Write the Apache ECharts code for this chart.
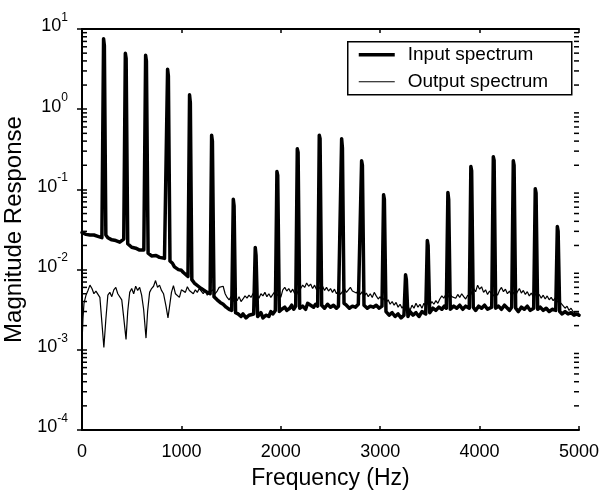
<!DOCTYPE html>
<html>
<head>
<meta charset="utf-8">
<script src="https://cdn.jsdelivr.net/npm/echarts@6/dist/echarts.min.js"></script>
<style>html,body{margin:0;padding:0;background:#fff}#c{width:600px;height:494px}</style>
</head>
<body>
<div id="c"></div>
<script>
// ---- data ----
const seriesNames = ['Input spectrum', 'Output spectrum'];
const xTicks = [0, 1000, 2000, 3000, 4000, 5000];
const yMinorTicks = [
  0.0002,0.0003,0.0004,0.0005,0.0006,0.0007,0.0008,0.0009,
  0.002,0.003,0.004,0.005,0.006,0.007,0.008,0.009,
  0.02,0.03,0.04,0.05,0.06,0.07,0.08,0.09,
  0.2,0.3,0.4,0.5,0.6,0.7,0.8,0.9,
  2,3,4,5,6,7,8,9
];
// input spectrum: noise floor [Hz, magnitude]
const inputFloor = [
  [0,0.029],[20,0.028],[40,0.0275],[60,0.028],[80,0.027],[100,0.0265],[120,0.027],[140,0.0262],[160,0.026],[180,0.0255],[200,0.025],
  [240,0.027],[260,0.025],[280,0.024],[300,0.0235],[320,0.024],[340,0.023],[360,0.0225],[380,0.022],[400,0.023],[420,0.024],
  [460,0.021],[480,0.0205],[500,0.019],[520,0.0195],[540,0.0185],[560,0.018],[580,0.0175],[600,0.018],[622,0.0175],
  [665,0.016],[680,0.0155],[700,0.0148],[720,0.0152],[745,0.015],[780,0.0142],[800,0.014],[830,0.0138],[846,0.0135],
  [885,0.0128],[910,0.012],[930,0.0108],[950,0.0102],[970,0.01],[1000,0.0098],[1020,0.0092],[1040,0.0088],[1066,0.0082],
  [1105,0.0075],[1130,0.0068],[1150,0.0066],[1170,0.0062],[1200,0.0058],[1230,0.0055],[1260,0.0052],[1289,0.005],
  [1328,0.0046],[1360,0.0042],[1390,0.0039],[1420,0.0037],[1450,0.0034],[1480,0.0032],[1506,0.0031],
  [1545,0.0029],[1570,0.0028],[1600,0.0026],[1620,0.0028],[1650,0.0025],[1680,0.0027],[1700,0.0026],[1727,0.0028],
  [1767,0.0026],[1800,0.0029],[1820,0.0025],[1850,0.0027],[1880,0.0026],[1900,0.003],[1920,0.0028],[1945,0.0031],
  [1985,0.003],[2010,0.0032],[2040,0.0034],[2060,0.0031],[2090,0.0033],[2110,0.0036],[2130,0.0032],[2150,0.0035],
  [2190,0.0033],[2220,0.0035],[2250,0.0032],[2270,0.0038],[2300,0.0036],[2330,0.0034],[2350,0.0037],[2371,0.0035],
  [2411,0.0036],[2440,0.0033],[2470,0.0037],[2500,0.0034],[2530,0.0036],[2560,0.0033],[2580,0.0035],[2596,0.0034],
  [2636,0.0038],[2660,0.0036],[2690,0.0033],[2720,0.0035],[2750,0.0034],[2780,0.0037],[2797,0.0035],
  [2837,0.0036],[2870,0.0033],[2900,0.0035],[2930,0.0034],[2960,0.0036],[2990,0.0033],[3018,0.0035],
  [3058,0.003],[3090,0.0027],[3120,0.0029],[3150,0.0026],[3180,0.0028],[3210,0.0025],[3239,0.0027],
  [3279,0.0026],[3300,0.003],[3330,0.0027],[3360,0.0029],[3390,0.0026],[3420,0.003],[3458,0.0028],
  [3498,0.0029],[3530,0.0033],[3560,0.0031],[3590,0.0034],[3620,0.0032],[3645,0.0035],[3665,0.0033],
  [3705,0.0032],[3740,0.0035],[3770,0.0033],[3800,0.0036],[3830,0.0032],[3860,0.0035],[3896,0.0033],
  [3936,0.0034],[3960,0.0031],[3990,0.0035],[4020,0.0033],[4050,0.0036],[4080,0.0032],[4122,0.0034],
  [4162,0.0033],[4190,0.0035],[4220,0.0032],[4250,0.0036],[4280,0.0033],[4300,0.0031],[4323,0.0034],
  [4363,0.0033],[4390,0.003],[4420,0.0034],[4450,0.0032],[4480,0.0035],[4510,0.0031],[4544,0.0033],
  [4584,0.0032],[4610,0.0034],[4640,0.0031],[4670,0.0033],[4700,0.003],[4730,0.0032],[4766,0.0031],
  [4806,0.003],[4830,0.0028],[4860,0.003],[4890,0.0028],[4920,0.0029],[4950,0.0027],[4980,0.0028],[5000,0.0027]
];
// input spectrum: harmonic peaks, two bins each [Hz, magnitude]
const inputPeaks = [
  [217,7.55],[225,6.2],[436,4.99],[444,4.3],[640,4.71],[648,4.0],[861,3.15],[869,2.6],
  [1082,1.51],[1090,1.2],[1304,0.474],[1312,0.4],[1522,0.0755],[1530,0.062],[1743,0.0189],[1751,0.015],
  [1961,0.167],[1969,0.15],[2166,0.321],[2174,0.29],[2387,0.474],[2395,0.43],[2612,0.428],[2620,0.33],
  [2813,0.227],[2821,0.2],[3034,0.0857],[3042,0.075],[3255,0.0086],[3263,0.0075],
  [3474,0.0231],[3482,0.02],[3681,0.0915],[3689,0.075],[3912,0.193],[3920,0.17],[4138,0.255],[4146,0.23],
  [4339,0.227],[4347,0.2],[4560,0.1017],[4568,0.09],[4782,0.0344],[4790,0.03]
];
// output spectrum [Hz, magnitude]
const outputSpectrum = [
  [0,0.0012],[10,0.0025],[20,0.0038],[40,0.0048],[60,0.0055],[80,0.0064],[100,0.0058],[120,0.005],[140,0.0054],[160,0.0056],[180,0.0045],[200,0.0022],
  [220,0.00107],[240,0.0024],[260,0.0048],[280,0.0052],[300,0.0046],[320,0.0056],[340,0.006],[360,0.005],[380,0.0052],[400,0.0042],[420,0.0025],
  [443,0.00135],[460,0.003],[480,0.0052],[500,0.0058],[520,0.005],[540,0.0062],[560,0.0055],[580,0.006],[600,0.0048],[620,0.0032],
  [644,0.0014],[660,0.003],[680,0.0052],[700,0.0058],[720,0.0062],[740,0.0073],[760,0.006],[780,0.0064],[800,0.0055],[820,0.005],[845,0.0035],
  [865,0.0025],[885,0.0038],[900,0.0052],[920,0.0063],[940,0.005],[960,0.0048],[980,0.0045],[1000,0.0056],[1020,0.0058],[1040,0.0052],[1060,0.0061],
  [1080,0.0055],[1100,0.0058],[1120,0.005],[1140,0.0056],[1160,0.0052],[1180,0.0058],[1200,0.0054],[1220,0.005],[1240,0.0055],[1260,0.0048],[1280,0.0052],
  [1300,0.0052],[1320,0.0056],[1340,0.005],[1360,0.0054],[1380,0.006],[1400,0.0057],[1420,0.0062],[1440,0.005],[1460,0.0045],[1480,0.0042],[1500,0.0046],
  [1520,0.004],[1540,0.0044],[1560,0.0041],[1580,0.0046],[1600,0.004],[1620,0.0043],[1640,0.0047],[1660,0.0044],[1680,0.0048],[1700,0.0045],[1720,0.005],
  [1740,0.0055],[1760,0.0048],[1780,0.0044],[1800,0.005],[1820,0.0047],[1840,0.0052],[1860,0.0046],[1880,0.005],[1900,0.0045],[1920,0.0049],[1940,0.0053],
  [1960,0.0047],[1980,0.0051],[2000,0.0045],[2020,0.0056],[2040,0.006],[2060,0.0054],[2080,0.0058],[2100,0.0052],[2120,0.0057],[2140,0.005],[2160,0.0055],
  [2180,0.0048],[2200,0.0058],[2220,0.0064],[2240,0.006],[2260,0.0068],[2280,0.0062],[2300,0.0066],[2320,0.0058],[2340,0.0064],[2360,0.0056],[2380,0.0061],
  [2400,0.0057],[2420,0.0062],[2440,0.0055],[2460,0.006],[2480,0.0054],[2500,0.0058],[2520,0.0052],[2540,0.0057],[2560,0.005],[2580,0.0055],[2600,0.0049],
  [2620,0.0053],[2640,0.0058],[2660,0.0052],[2680,0.0056],[2700,0.006],[2720,0.0054],[2740,0.0057],[2760,0.0051],[2780,0.0055],[2800,0.0049],[2820,0.0053],
  [2840,0.0047],[2860,0.0051],[2880,0.0046],[2900,0.005],[2920,0.0045],[2940,0.0052],[2960,0.0047],[2980,0.0043],[3000,0.0046],[3020,0.0041],[3040,0.0044],
  [3060,0.0039],[3080,0.0042],[3100,0.0037],[3120,0.004],[3140,0.0036],[3160,0.0039],[3180,0.0034],[3200,0.0037],[3220,0.0033],[3240,0.0036],[3260,0.0032],
  [3280,0.0035],[3300,0.0031],[3320,0.0036],[3340,0.0033],[3360,0.0038],[3380,0.0034],[3400,0.0037],[3420,0.0033],[3440,0.0038],[3460,0.0035],[3480,0.0039],
  [3500,0.0036],[3520,0.004],[3540,0.0037],[3560,0.0041],[3580,0.0038],[3600,0.0043],[3620,0.0047],[3640,0.0044],[3660,0.0049],[3680,0.0045],[3700,0.005],
  [3720,0.0046],[3740,0.0048],[3760,0.0044],[3780,0.0049],[3800,0.0045],[3820,0.005],[3840,0.0046],[3860,0.0043],[3880,0.0048],[3900,0.0045],[3920,0.0052],
  [3940,0.0058],[3960,0.0053],[3980,0.0064],[4000,0.0057],[4020,0.0061],[4040,0.0052],[4060,0.0056],[4080,0.0049],[4100,0.0054],[4120,0.005],[4140,0.0047],
  [4160,0.0052],[4180,0.0048],[4200,0.0055],[4220,0.006],[4240,0.0053],[4260,0.0057],[4280,0.005],[4300,0.0054],[4320,0.0048],[4340,0.0052],[4360,0.0047],
  [4380,0.0053],[4400,0.0058],[4420,0.0051],[4440,0.0055],[4460,0.0049],[4480,0.0053],[4500,0.0047],[4520,0.0051],[4540,0.0046],[4560,0.005],[4580,0.0045],
  [4600,0.0049],[4620,0.0044],[4640,0.0048],[4660,0.0043],[4680,0.0047],[4700,0.0042],[4720,0.0045],[4740,0.0041],[4760,0.0044],[4780,0.004],[4800,0.0042],
  [4820,0.0038],[4840,0.0036],[4860,0.0033],[4880,0.0035],[4900,0.0031],[4920,0.0033],[4940,0.003],[4960,0.0031],[4980,0.0028],[5000,0.0029]
];

// ---- chart ----
const FONT = '"Liberation Sans", Arial, Helvetica, sans-serif';
const GRID = {left: 82, right: 21, top: 29, bottom: 64};
const W = 600;
const inputData = inputFloor.concat(inputPeaks).sort((a, b) => a[0] - b[0]);

const chart = echarts.init(document.getElementById('c'), null, {renderer: 'canvas', width: 600, height: 494});

const axisLineStyle = {show: true, lineStyle: {color: '#000', width: 2}};
const legendGraphic = {
  type: 'group', id: 'legend', left: 347, top: 41, z: 100,
  children: [
    {type: 'rect', shape: {x: 0, y: 0, width: 224, height: 53}, style: {fill: '#fff', stroke: '#000', lineWidth: 1.5}},
    {type: 'line', shape: {x1: 11, y1: 13, x2: 47, y2: 13}, style: {stroke: '#000', lineWidth: 3.5}},
    {type: 'text', x: 60, y: 13, style: {text: seriesNames[0], fill: '#000', font: '19px ' + FONT, textVerticalAlign: 'middle', verticalAlign: 'middle'}},
    {type: 'line', shape: {x1: 11, y1: 40, x2: 47, y2: 40}, style: {stroke: '#000', lineWidth: 1.2}},
    {type: 'text', x: 60, y: 40, style: {text: seriesNames[1], fill: '#000', font: '19px ' + FONT, textVerticalAlign: 'middle', verticalAlign: 'middle'}}
  ]
};
const option = {
  animation: false,
  backgroundColor: '#fff',
  grid: {left: GRID.left, right: GRID.right, top: GRID.top, bottom: GRID.bottom, containLabel: false, outerBoundsMode: 'none'},
  xAxis: [{
    type: 'value', min: xTicks[0], max: xTicks[xTicks.length - 1], interval: 1000,
    position: 'bottom',
    axisLine: axisLineStyle,
    axisTick: {show: true, inside: true, length: 4, lineStyle: {color: '#000', width: 1.5}},
    splitLine: {show: false},
    axisLabel: {color: '#000', fontFamily: FONT, fontSize: 18, margin: 13, formatter: v => String(v)},
    name: 'Frequency (Hz)', nameLocation: 'middle', nameGap: 37,
    nameTextStyle: {color: '#000', fontFamily: FONT, fontSize: 23}
  }, {
    type: 'value', min: xTicks[0], max: xTicks[xTicks.length - 1], interval: 1000,
    position: 'top',
    axisLine: axisLineStyle,
    axisTick: {show: true, inside: true, length: 4, lineStyle: {color: '#000', width: 1.5}},
    splitLine: {show: false}, axisLabel: {show: false}
  }],
  yAxis: [{
    type: 'log', logBase: 10, min: 1e-4, max: 10, splitNumber: 5,
    position: 'left',
    axisLine: axisLineStyle,
    axisTick: {show: true, inside: true, length: 5, lineStyle: {color: '#000', width: 1.5}},
    splitLine: {show: false},
    axisLabel: {
      margin: 14, color: '#000', fontFamily: FONT,
      formatter: function (v) {
        const e = Math.round(Math.log10(v));
        return '{b|10}{e|' + e + '}';
      },
      rich: {
        b: {fontSize: 18, lineHeight: 18, fontFamily: FONT, color: '#000', padding: [0, 0, 5, 0]},
        e: {fontSize: 12, lineHeight: 12, fontFamily: FONT, color: '#000', padding: [0, 0, 23, 0]}
      }
    },
    name: 'Magnitude Response', nameLocation: 'middle', nameGap: 44, nameRotate: 90,
    nameTextStyle: {color: '#000', fontFamily: FONT, fontSize: 24}
  }, {
    type: 'log', logBase: 10, min: 1e-4, max: 10, splitNumber: 5,
    position: 'right',
    axisLine: axisLineStyle,
    axisTick: {show: true, inside: true, length: 5, lineStyle: {color: '#000', width: 1.5}},
    splitLine: {show: false}, axisLabel: {show: false}
  }],
  series: [{
    name: seriesNames[0], type: 'line', data: inputData,
    xAxisIndex: 0, yAxisIndex: 0,
    showSymbol: false, symbol: 'none', silent: true,
    lineStyle: {color: '#000', width: 3.5, join: 'round', cap: 'round'},
    z: 3
  }, {
    name: seriesNames[1], type: 'line', data: outputSpectrum,
    xAxisIndex: 0, yAxisIndex: 0,
    showSymbol: false, symbol: 'none', silent: true,
    lineStyle: {color: '#000', width: 1.2},
    z: 4
  }],
  graphic: [legendGraphic]
};
chart.setOption(option);

// minor log ticks (2..9 per decade) on the left and right frame; vertical position through the log axis scale
const xLeft = GRID.left;
const xRight = W - GRID.right;
const minorTicks = [];
yMinorTicks.forEach(function (v, i) {
  const y = chart.convertToPixel({yAxisIndex: 0}, v);
  minorTicks.push({type: 'polyline', id: 'mL' + i, z: 200, zlevel: 1, silent: true,
    shape: {points: [[xLeft, y], [xLeft + 5, y]]}, style: {stroke: '#000', lineWidth: 1.5, fill: null}});
  minorTicks.push({type: 'polyline', id: 'mR' + i, z: 200, zlevel: 1, silent: true,
    shape: {points: [[xRight - 5, y], [xRight, y]]}, style: {stroke: '#000', lineWidth: 1.5, fill: null}});
});
chart.setOption({graphic: [legendGraphic].concat(minorTicks)});
</script>
</body>
</html>
